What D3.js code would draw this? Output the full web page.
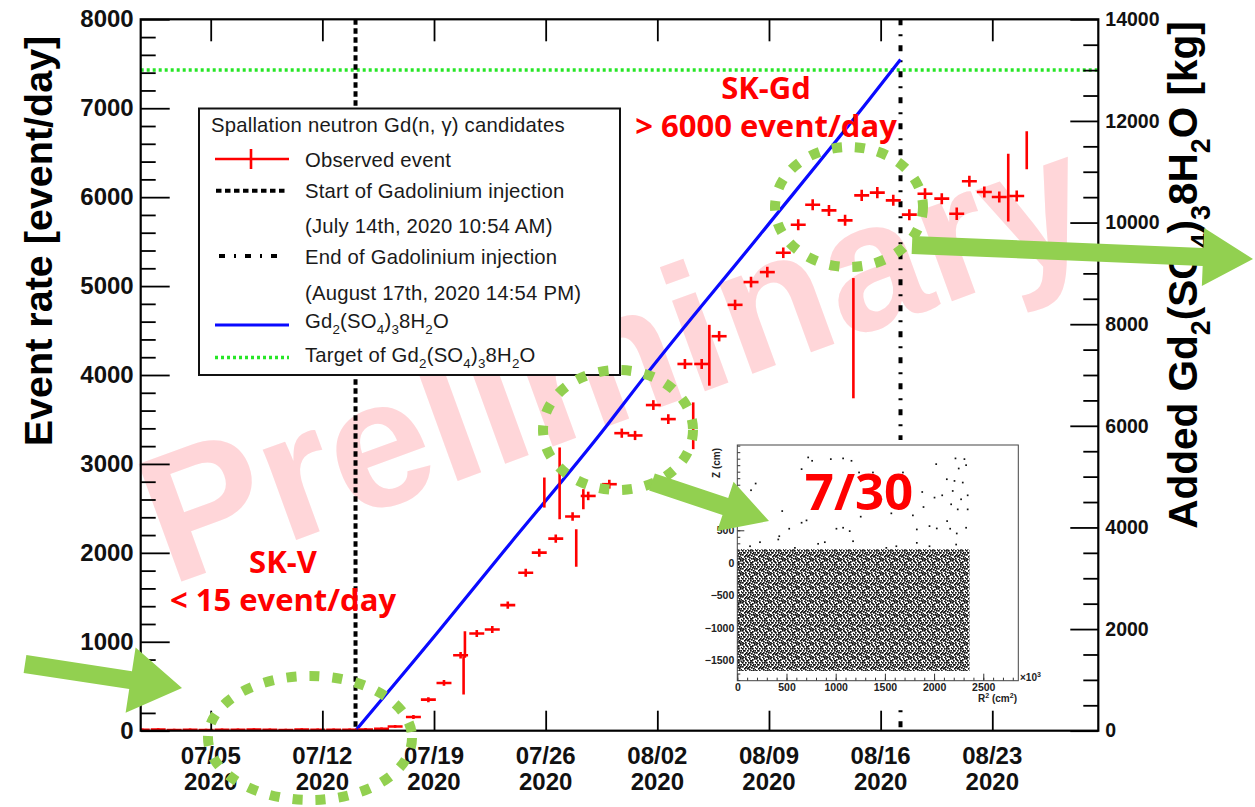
<!DOCTYPE html>
<html>
<head>
<meta charset="utf-8">
<script src="https://cdn.jsdelivr.net/npm/d3@7"></script>
<style>
  html, body { margin: 0; padding: 0; background: #fff; }
  svg { display: block; }
</style>
</head>
<body>
<svg id="chart" width="1255" height="807"></svg>
<script>
// ---------------- data ----------------
// Observed spallation-neutron Gd(n,gamma) candidate rate (UTC time of each sample)
const obsTime = [
  "2020-06-30T17:00Z","2020-07-01T17:00Z","2020-07-02T17:00Z","2020-07-03T17:00Z",
  "2020-07-04T17:00Z","2020-07-05T17:00Z","2020-07-06T17:00Z","2020-07-07T17:00Z",
  "2020-07-08T17:00Z","2020-07-09T17:00Z","2020-07-10T17:00Z","2020-07-11T17:00Z",
  "2020-07-12T17:00Z","2020-07-13T17:00Z","2020-07-14T17:00Z","2020-07-15T17:00Z",
  "2020-07-16T13:30Z","2020-07-17T17:00Z","2020-07-18T15:30Z","2020-07-19T15:00Z",
  "2020-07-20T16:00Z","2020-07-20T20:30Z","2020-07-20T22:30Z","2020-07-21T16:20Z",
  "2020-07-22T15:40Z","2020-07-23T15:00Z","2020-07-24T18:00Z","2020-07-25T14:20Z",
  "2020-07-25T22:00Z","2020-07-26T15:10Z","2020-07-26T21:00Z","2020-07-27T16:30Z",
  "2020-07-27T22:00Z","2020-07-28T08:40Z","2020-07-28T16:00Z","2020-07-29T23:45Z",
  "2020-07-30T18:30Z","2020-07-31T14:30Z","2020-08-01T18:00Z","2020-08-02T16:30Z",
  "2020-08-03T17:30Z","2020-08-04T06:00Z","2020-08-04T18:45Z","2020-08-05T06:15Z",
  "2020-08-05T21:00Z","2020-08-06T21:00Z","2020-08-07T21:00Z","2020-08-08T21:30Z",
  "2020-08-09T21:30Z","2020-08-10T20:00Z","2020-08-11T17:45Z","2020-08-12T18:15Z",
  "2020-08-13T18:30Z","2020-08-14T07:00Z","2020-08-14T19:30Z","2020-08-15T19:00Z",
  "2020-08-16T19:00Z","2020-08-17T19:10Z","2020-08-18T18:45Z","2020-08-19T20:00Z",
  "2020-08-20T18:30Z","2020-08-21T13:30Z","2020-08-22T12:00Z","2020-08-23T10:30Z",
  "2020-08-24T00:00Z","2020-08-24T12:45Z","2020-08-25T03:50Z"
];
const obsRate = [
  9, 12, 8, 10, 7, 11, 9, 13, 10, 8, 12, 9, 11, 10, 14, 22,
  48, 154, 349, 537, 848, 622, 969, 1093, 1138, 1412, 1777, 2002,
  2678, 2160, 2781, 2408, 2054, 2603, 2640, 2772, 3346, 3320, 3662, 3504,
  4124, 3429, 4124, 4222, 4436, 4789, 5045, 5157, 5375, 5690, 5915, 5851,
  5739, 4414, 6020, 6051, 5964, 5803, 6039, 5983, 5814, 6178, 6058, 6002,
  6108, 6013, 6527
];
const obsErr = [
  15, 15, 15, 15, 15, 15, 15, 15, 15, 15, 15, 15, 15, 15, 15, 15,
  15, 22, 28, 32, 36, 216, 150, 40, 40, 42, 45, 45,
  169, 46, 404, 48, 210, 113, 48, 50, 52, 52, 55, 55,
  56, 263, 56, 342, 58, 58, 60, 60, 60, 62, 62, 62,
  62, 676, 62, 62, 62, 62, 62, 62, 70, 62, 62, 62,
  381, 62, 214
];
// length of each data-taking window (hours)
const obsSpanHours = [
  22.5, 22.5, 22.5, 22.5, 22.5, 22.5, 22.5, 22.5, 22.5, 22.5, 22.5, 22.5, 22.5, 22.5, 22.5, 22.5,
  22.5, 22.5, 22.5, 22.5, 22.5, 1.5, 1.5, 22.5, 22.5, 22.5, 22.5, 22.5,
  1.5, 22.5, 1.5, 22.5, 1.5, 1.5, 22.5, 22.5, 22.5, 22.5, 22.5, 22.5,
  22.5, 1.5, 22.5, 1.5, 22.5, 22.5, 22.5, 22.5, 22.5, 22.5, 22.5, 22.5,
  22.5, 1.5, 22.5, 22.5, 22.5, 22.5, 22.5, 22.5, 22.5, 22.5, 22.5, 22.5,
  2, 22.5, 1.5
];

// Gadolinium loading (times in UTC; 10:54 AM and 14:54 PM JST)
const injectionStart = "2020-07-14T01:54Z";
const injectionEnd   = "2020-08-17T05:54Z";
const gdTime = ["2020-07-14T01:54Z","2020-07-19T09:00Z","2020-07-23T00:45Z","2020-07-29T19:50Z",
                "2020-07-31T21:50Z","2020-08-08T10:30Z","2020-08-15T08:00Z","2020-08-17T05:54Z"];
const gdMass = [0, 1990, 3400, 6000, 6850, 9760, 12440, 13210];   // kg
const gdTarget = 13000;                                          // kg

const xDomain = ["2020-06-30T14:40Z", "2020-08-29T15:30Z"];
const xTicks = ["2020-07-05","2020-07-12","2020-07-19","2020-07-26",
                "2020-08-02","2020-08-09","2020-08-16","2020-08-23"];
const rateTicks = [0, 1000, 2000, 3000, 4000, 5000, 6000, 7000, 8000];
const massTicks = [0, 2000, 4000, 6000, 8000, 10000, 12000, 14000];

// Vertex distribution of candidates on 7/30: Gd-loaded volume and sparse events above it
const gdZoneR2 = [0, 2360];      // x10^3 cm^2
const gdZoneZ = [-1660, 210];    // cm
const vtxR2 = [720, 760, 950, 1075, 1160, 653, 1237, 186, 139, 456, 527, 426, 653, 703, 1007,
               1075, 1142, 1176, 889, 821, 1254, 1463, 1565, 1784, 1824, 1879, 1892, 1953, 2004,
               2021, 2027, 2082, 2129, 2132, 2163, 2173, 2189, 2207, 2217, 2230, 2240, 2250, 2274,
               2291, 2308, 2325, 2341, 2341, 2325, 2224, 1824, 1953, 1514, 585, 1378, 1683, 416,
               129, 230, 1616];
const vtxZ = [1620, 1568, 1594, 1605, 1568, 1440, 1389, 1219, 1116, 796, 525, 410, 617, 653, 525,
              540, 488, 333, 318, 293, 710, 977, 761, 730, 514, 1089, 858, 565, 1003,
              1517, 529, 1038, 1285, 642, 525, 900, 1105, 1259, 1605, 452, 822, 1450, 977,
              1234, 1594, 1501, 1038, 822, 540, 282, 308, 256, 231, 231, 1389, 1389, 360,
              256, 318, 256];
const insetR2Domain = [0, 2856];
const insetZDomain = [-1810, 1810];
const insetR2Ticks = [0, 500, 1000, 1500, 2000, 2500];
const insetZTicks = [-1500, -1000, -500, 0, 500];

// ---------------- layout ----------------
const plot = { left: 140.7, right: 1098.3, top: 19.3, bottom: 730.7 };
const inset = { left: 737.3, right: 1018.3, top: 445, bottom: 680.7 };
const ROOTFONT = "'Liberation Sans', Arial, Helvetica, sans-serif";
const NOTEFONT = "'Open Sans', 'Noto Sans', sans-serif";
const GREEN = "#92d050";
const RED = "#ff0000";
const BLUE = "#0a0aff";
const LIME = "#27e627";

const svg = d3.select("#chart");
svg.append("rect").attr("width", 1255).attr("height", 807).attr("fill", "#fff");

const parse = s => new Date(s);
const x = d3.scaleUtc().domain(xDomain.map(parse)).range([plot.left, plot.right]);
const yL = d3.scaleLinear().domain([0, 8000]).range([plot.bottom, plot.top]);
const yR = d3.scaleLinear().domain([0, 14000]).range([plot.bottom, plot.top]);

// helper: text with chemical subscripts
function richText(sel, parts, size) {
  let off = 0;
  parts.forEach(p => {
    const sub = Array.isArray(p);
    const txt = sub ? p[0] : p;
    const target = sub ? size * 0.32 : 0;
    sel.append("tspan")
      .attr("dy", target - off)
      .attr("font-size", sub ? size * 0.66 : size)
      .text(txt);
    off = target;
  });
}
const gdFormula = ["Gd", ["2"], "(SO", ["4"], ")", ["3"], "8H", ["2"], "O"];

// ---------------- watermark ----------------
svg.append("text")
  .attr("transform", "translate(614,356) rotate(-20)")
  .attr("text-anchor", "middle")
  .attr("y", 64)
  .attr("font-family", ROOTFONT)
  .attr("font-weight", "bold")
  .attr("font-size", 182)
  .attr("fill", "#ffd6d9")
  .text("Preliminary");

// ---------------- plot area ----------------
svg.append("clipPath").attr("id", "plotclip")
  .append("rect")
  .attr("x", plot.left).attr("y", plot.top)
  .attr("width", plot.right - plot.left).attr("height", plot.bottom - plot.top);

const pg = svg.append("g").attr("clip-path", "url(#plotclip)");

// target amount (dotted green)
pg.append("line")
  .attr("x1", plot.left).attr("x2", plot.right)
  .attr("y1", yR(gdTarget)).attr("y2", yR(gdTarget))
  .attr("stroke", LIME).attr("stroke-width", 3.5)
  .attr("stroke-dasharray", "3 3");

// injection start / end markers
const markerStyles = [
  { t: injectionStart, dash: "5.5 3.5" },
  { t: injectionEnd, dash: "6 9 2 9" }
];
markerStyles.forEach(m => {
  pg.append("line")
    .attr("x1", x(parse(m.t))).attr("x2", x(parse(m.t)))
    .attr("y1", plot.top).attr("y2", plot.bottom)
    .attr("stroke", "#000").attr("stroke-width", 4)
    .attr("stroke-dasharray", m.dash);
});

// added Gd2(SO4)3.8H2O
pg.append("path")
  .datum(gdTime.map((t, i) => [parse(t), gdMass[i]]))
  .attr("fill", "none").attr("stroke", BLUE).attr("stroke-width", 3.2)
  .attr("stroke-linejoin", "round")
  .attr("d", d3.line().curve(d3.curveMonotoneX).x(d => x(d[0])).y(d => yR(d[1])));

// observed events with error bars
const obs = obsTime.map((t, i) => ({
  t: parse(t), v: obsRate[i], e: obsErr[i], h: obsSpanHours[i] * 3600e3 / 2
}));
const og = pg.append("g").attr("stroke", RED).attr("stroke-width", 2.6);
og.selectAll("line.h").data(obs).join("line").attr("class", "h")
  .attr("x1", d => x(new Date(+d.t - d.h))).attr("x2", d => x(new Date(+d.t + d.h)))
  .attr("y1", d => yL(d.v)).attr("y2", d => yL(d.v));
og.selectAll("line.v").data(obs).join("line").attr("class", "v")
  .attr("x1", d => x(d.t)).attr("x2", d => x(d.t))
  .attr("y1", d => yL(d.v - d.e)).attr("y2", d => yL(d.v + d.e));

// ---------------- axes ----------------
const axStyle = g => {
  g.select(".domain").remove();
  g.selectAll(".tick line").attr("stroke", "#000").attr("stroke-width", 1.8);
};
const rateMinor = d3.range(0, 8001, 200).filter(v => v % 1000 !== 0);
const massMinor = d3.range(0, 14001, 500).filter(v => v % 2000 !== 0);

svg.append("g").attr("transform", `translate(${plot.left},0)`)
  .call(d3.axisLeft(yL).tickValues(rateMinor).tickSize(-15).tickFormat(""))
  .call(axStyle);
svg.append("g").attr("transform", `translate(${plot.left},0)`)
  .call(d3.axisLeft(yL).tickValues(rateTicks).tickSize(-29).tickPadding(7).tickFormat(d3.format("d")))
  .call(axStyle)
  .call(g => g.selectAll("text").attr("font-family", ROOTFONT).attr("font-weight", "bold")
    .attr("font-size", 24).attr("fill", "#111"));

svg.append("g").attr("transform", `translate(${plot.right},0)`)
  .call(d3.axisRight(yR).tickValues(massMinor).tickSize(-15).tickFormat(""))
  .call(axStyle);
svg.append("g").attr("transform", `translate(${plot.right},0)`)
  .call(d3.axisRight(yR).tickValues(massTicks).tickSize(-28).tickPadding(7).tickFormat(d3.format("d")))
  .call(axStyle)
  .call(g => g.selectAll("text").attr("font-family", ROOTFONT).attr("font-weight", "bold")
    .attr("font-size", 19.5).attr("fill", "#111"));

const xTickDates = xTicks.map(s => new Date(s + "T00:00Z"));
svg.append("g").attr("transform", `translate(0,${plot.bottom})`)
  .call(d3.axisBottom(x).tickValues(xTickDates).tickSize(-20).tickFormat(""))
  .call(axStyle);
svg.append("g").attr("transform", `translate(0,${plot.top})`)
  .call(d3.axisTop(x).tickValues(xTickDates).tickSize(-22).tickFormat(""))
  .call(axStyle);

const xl = svg.append("g").attr("font-family", ROOTFONT).attr("font-weight", "bold")
  .attr("font-size", 24).attr("fill", "#111").attr("text-anchor", "middle");
xl.selectAll("text.md").data(xTickDates).join("text").attr("class", "md")
  .attr("x", d => x(d)).attr("y", 764).text(d3.utcFormat("%m/%d"));
xl.selectAll("text.yr").data(xTickDates).join("text").attr("class", "yr")
  .attr("x", d => x(d)).attr("y", 790).text(d3.utcFormat("%Y"));

// frame
svg.append("rect")
  .attr("x", plot.left).attr("y", plot.top)
  .attr("width", plot.right - plot.left).attr("height", plot.bottom - plot.top)
  .attr("fill", "none").attr("stroke", "#000").attr("stroke-width", 2.2);

// axis titles
svg.append("text")
  .attr("transform", "translate(52,241) rotate(-90)")
  .attr("text-anchor", "middle")
  .attr("font-family", ROOTFONT).attr("font-weight", "bold").attr("font-size", 39.5)
  .attr("fill", "#000")
  .text("Event rate [event/day]");

const rt = svg.append("text")
  .attr("transform", "translate(1197,275) rotate(-90)")
  .attr("text-anchor", "middle")
  .attr("font-family", ROOTFONT).attr("font-weight", "bold")
  .attr("fill", "#000");
richText(rt, ["Added "].concat(gdFormula, [" [kg]"]), 40.5);

// ---------------- legend ----------------
const lg = svg.append("g");
lg.append("rect").attr("x", 199).attr("y", 108.5).attr("width", 421).attr("height", 266.5)
  .attr("fill", "#fff").attr("stroke", "#111").attr("stroke-width", 2);
const LFS = 20.3;
const lt = lg.append("g").attr("font-family", ROOTFONT).attr("font-size", LFS)
  .attr("letter-spacing", 0.2).attr("fill", "#1a1a1a");
lt.append("text").attr("x", 211).attr("y", 132).text("Spallation neutron Gd(n, \u03B3) candidates");
const legendLines = [
  { y: 166.5, text: "Observed event" },
  { y: 198, text: "Start of Gadolinium injection" },
  { y: 232.5, text: "(July 14th, 2020 10:54 AM)" },
  { y: 263.5, text: "End of Gadolinium injection" },
  { y: 300, text: "(August 17th, 2020 14:54 PM)" }
];
legendLines.forEach(r => lt.append("text").attr("x", 305).attr("y", r.y).text(r.text));
richText(lt.append("text").attr("x", 305).attr("y", 328), gdFormula, LFS);
richText(lt.append("text").attr("x", 305).attr("y", 362), ["Target of "].concat(gdFormula), LFS);

// legend symbols
lg.append("line").attr("x1", 215).attr("x2", 289).attr("y1", 159).attr("y2", 159)
  .attr("stroke", RED).attr("stroke-width", 2.6);
lg.append("line").attr("x1", 251).attr("x2", 251).attr("y1", 149).attr("y2", 169)
  .attr("stroke", RED).attr("stroke-width", 2.6);
lg.append("line").attr("x1", 216).attr("x2", 286).attr("y1", 190.7).attr("y2", 190.7)
  .attr("stroke", "#000").attr("stroke-width", 4).attr("stroke-dasharray", markerStyles[0].dash);
lg.append("line").attr("x1", 219).attr("x2", 286).attr("y1", 256).attr("y2", 256)
  .attr("stroke", "#000").attr("stroke-width", 4).attr("stroke-dasharray", markerStyles[1].dash);
lg.append("line").attr("x1", 215).attr("x2", 289).attr("y1", 325).attr("y2", 325)
  .attr("stroke", BLUE).attr("stroke-width", 3.2);
lg.append("line").attr("x1", 215).attr("x2", 289).attr("y1", 357.5).attr("y2", 357.5)
  .attr("stroke", LIME).attr("stroke-width", 3.5).attr("stroke-dasharray", "3 3");

// ---------------- inset: vertex distribution ----------------
const ix = d3.scaleLinear().domain(insetR2Domain).range([inset.left, inset.right]);
const iz = d3.scaleLinear().domain(insetZDomain).range([inset.bottom, inset.top]);
const ig = svg.append("g");
ig.append("rect").attr("x", 702).attr("y", 440).attr("width", 330).attr("height", 266).attr("fill", "#fff");

// speckle texture for the densely populated Gd-loaded volume
const speckle = [[0,0],[3,0],[7,0],[10,1],[12,0],[1,2],[5,2],[8,2],[13,3],[0,4],[3,4],[6,4],
  [10,4],[11,6],[2,6],[5,6],[8,6],[12,8],[0,8],[4,8],[7,8],[9,9],[13,11],[2,10],[5,10],
  [11,10],[0,12],[3,12],[7,11],[9,12],[12,13],[6,13],[10,7],[1,13],[4,1],[8,4],[13,6],
  [6,9],[3,9],[9,2],[11,12],[1,6]];
const pat = svg.append("defs").append("pattern").attr("id", "speckle")
  .attr("patternUnits", "userSpaceOnUse").attr("width", 14).attr("height", 14);
pat.selectAll("rect").data(speckle).join("rect")
  .attr("x", d => d[0]).attr("y", d => d[1]).attr("width", 1.7).attr("height", 1.7).attr("fill", "#111");

ig.append("rect")
  .attr("x", ix(gdZoneR2[0])).attr("y", iz(gdZoneZ[1]))
  .attr("width", ix(gdZoneR2[1]) - ix(gdZoneR2[0]))
  .attr("height", iz(gdZoneZ[0]) - iz(gdZoneZ[1]))
  .attr("fill", "url(#speckle)");
ig.selectAll("rect.vtx").data(vtxR2.map((r, i) => [r, vtxZ[i]])).join("rect").attr("class", "vtx")
  .attr("x", d => ix(d[0]) - 0.8).attr("y", d => iz(d[1]) - 0.8)
  .attr("width", 1.7).attr("height", 1.7).attr("fill", "#111");

const iaxStyle = g => {
  g.select(".domain").remove();
  g.selectAll(".tick line").attr("stroke", "#333").attr("stroke-width", 1);
  g.selectAll("text").attr("font-family", ROOTFONT).attr("font-weight", "bold")
    .attr("font-size", 10.5).attr("fill", "#222");
};
ig.append("g").attr("transform", `translate(0,${inset.bottom})`)
  .call(d3.axisBottom(ix).tickValues(d3.range(0, 2851, 100)).tickSize(-3).tickFormat(""))
  .call(iaxStyle);
ig.append("g").attr("transform", `translate(0,${inset.bottom})`)
  .call(d3.axisBottom(ix).tickValues(insetR2Ticks).tickSize(-7).tickPadding(3).tickFormat(d3.format("d")))
  .call(iaxStyle);
ig.append("g").attr("transform", `translate(${inset.left},0)`)
  .call(d3.axisLeft(iz).tickValues(d3.range(-1800, 1801, 100)).tickSize(-3).tickFormat(""))
  .call(iaxStyle);
ig.append("g").attr("transform", `translate(${inset.left},0)`)
  .call(d3.axisLeft(iz).tickValues(insetZTicks).tickSize(-7).tickPadding(3).tickFormat(d3.format("d")))
  .call(iaxStyle);
ig.append("rect").attr("x", inset.left).attr("y", inset.top)
  .attr("width", inset.right - inset.left).attr("height", inset.bottom - inset.top)
  .attr("fill", "none").attr("stroke", "#444").attr("stroke-width", 1);
const it = ig.append("g").attr("font-family", ROOTFONT).attr("font-weight", "bold")
  .attr("font-size", 10).attr("fill", "#222");
it.append("text").attr("transform", "translate(720,448) rotate(-90)").attr("text-anchor", "end").text("Z (cm)");
const r2t = it.append("text").attr("x", 1017).attr("y", 702).attr("text-anchor", "end");
r2t.append("tspan").text("R");
r2t.append("tspan").attr("dy", -4).attr("font-size", 7).text("2");
r2t.append("tspan").attr("dy", 4).text(" (cm");
r2t.append("tspan").attr("dy", -4).attr("font-size", 7).text("2");
r2t.append("tspan").attr("dy", 4).text(")");
const sct = it.append("text").attr("x", 1020).attr("y", 681);
sct.append("tspan").text("\u00D710");
sct.append("tspan").attr("dy", -4).attr("font-size", 7).text("3");

// ---------------- annotations ----------------
const notes = svg.append("g").attr("font-family", NOTEFONT).attr("font-weight", "bold")
  .attr("fill", RED).attr("text-anchor", "middle");
notes.append("text").attr("x", 766).attr("y", 99).attr("font-size", 31).text("SK-Gd");
notes.append("text").attr("x", 766).attr("y", 137).attr("font-size", 31).text("> 6000 event/day");
notes.append("text").attr("x", 283).attr("y", 573).attr("font-size", 31).text("SK-V");
notes.append("text").attr("x", 283).attr("y", 611).attr("font-size", 31).text("< 15 event/day");
notes.append("text").attr("x", 859).attr("y", 510).attr("font-size", 51).text("7/30");

// dashed highlight ellipses
const rings = [
  { cx: 310, cy: 738, rx: 102, ry: 62 },
  { cx: 618, cy: 430, rx: 75, ry: 60 },
  { cx: 849, cy: 207, rx: 74, ry: 60 }
];
svg.append("g").selectAll("ellipse").data(rings).join("ellipse")
  .attr("cx", d => d.cx).attr("cy", d => d.cy).attr("rx", d => d.rx).attr("ry", d => d.ry)
  .attr("fill", "none").attr("stroke", GREEN).attr("stroke-width", 10)
  .attr("stroke-dasharray", "10 13");

// block arrows
function arrowPoints(a) {
  const dx = a.x1 - a.x0, dy = a.y1 - a.y0, len = Math.hypot(dx, dy);
  const ux = dx / len, uy = dy / len, px = -uy, py = ux;
  const bx = a.x1 - ux * a.head, by = a.y1 - uy * a.head;
  return [
    [a.x0 + px * a.w / 2, a.y0 + py * a.w / 2],
    [bx + px * a.w / 2, by + py * a.w / 2],
    [bx + px * a.hw / 2, by + py * a.hw / 2],
    [a.x1, a.y1],
    [bx - px * a.hw / 2, by - py * a.hw / 2],
    [bx - px * a.w / 2, by - py * a.w / 2],
    [a.x0 - px * a.w / 2, a.y0 - py * a.w / 2]
  ];
}
const arrows = [
  { x0: 25, y0: 664, x1: 182, y1: 688, w: 18, head: 52, hw: 66 },
  { x0: 912, y0: 245, x1: 1253, y1: 259, w: 18, head: 50, hw: 58 },
  { x0: 652, y0: 482, x1: 769, y1: 521, w: 18, head: 46, hw: 52 }
];
svg.append("g").selectAll("polygon").data(arrows).join("polygon")
  .attr("points", d => arrowPoints(d).map(p => p.join(",")).join(" "))
  .attr("fill", GREEN);
</script>
</body>
</html>
